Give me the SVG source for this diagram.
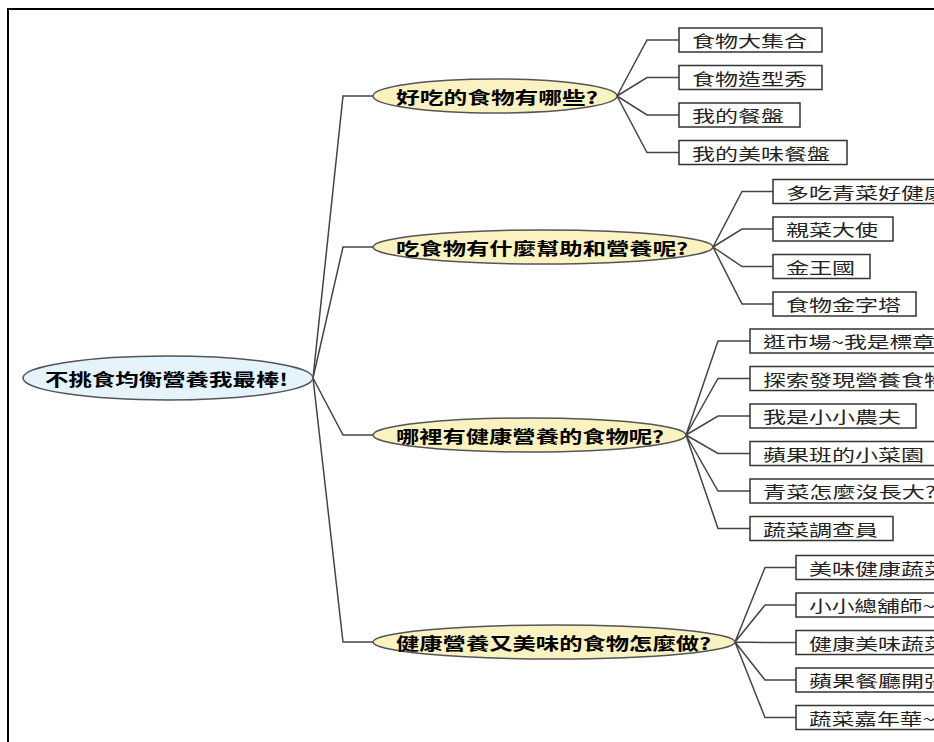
<svg xmlns="http://www.w3.org/2000/svg" width="934" height="742" viewBox="0 0 934 742">
<style>
.bg{fill:#ffffff}
.frame{stroke:#000;stroke-width:2;fill:none}
.root{fill:#e4f3fc;stroke:#555;stroke-width:1.5}
.main{fill:#fbf2c2;stroke:#555;stroke-width:1.5}
.leaf{fill:#fff;stroke:#333;stroke-width:1.5}
.con{fill:none;stroke:#444;stroke-width:1.5}
.tm{font-family:"Noto Sans CJK TC","Noto Sans CJK SC",sans-serif;font-weight:700;font-size:17px;fill:#000;dominant-baseline:central}
.tl{font-family:"Noto Sans CJK TC","Noto Sans CJK SC",sans-serif;font-weight:400;font-size:16px;fill:#222;dominant-baseline:central}
</style>
<rect class="bg" x="0" y="0" width="934" height="742"/>
<path class="frame" d="M8,742 L8,9 L934,9"/>
<g id="connectors">
<path class="con" d="M313,378 L343,96 L373,96"/>
<path class="con" d="M313,378 L343,247 L373,247"/>
<path class="con" d="M313,378 L343,435 L373,435"/>
<path class="con" d="M313,378 L343,642 L373,642"/>
<path class="con" d="M617,96 L647,40 L679,40 M617,96 L647,77.5 L679,77.5 M617,96 L647,115 L679,115 M617,96 L647,152.5 L679,152.5"/>
<path class="con" d="M713,247 L742,191.5 L773,191.5 M713,247 L742,229 L773,229 M713,247 L742,266.5 L773,266.5 M713,247 L742,304 L773,304"/>
<path class="con" d="M686,435 L718,341 L750,341 M686,435 L718,378.5 L750,378.5 M686,435 L718,416 L750,416 M686,435 L718,453.5 L750,453.5 M686,435 L718,491 L750,491 M686,435 L718,528.5 L750,528.5"/>
<path class="con" d="M735,642 L765,567.5 L796,567.5 M735,642 L765,605 L796,605 M735,642 L765,642.5 L796,642.5 M735,642 L765,680 L796,680 M735,642 L765,717.5 L796,717.5"/>
</g>
<g id="root">
<ellipse class="root" cx="168" cy="378" rx="145" ry="22"/>
<text class="tm" x="45" y="378" textLength="243" lengthAdjust="spacingAndGlyphs">不挑食均衡營養我最棒!</text>
</g>
<g id="main1">
<ellipse class="main" cx="495" cy="96" rx="122" ry="17"/>
<text class="tm" x="396" y="96" textLength="202" lengthAdjust="spacingAndGlyphs">好吃的食物有哪些?</text>
</g>
<g id="main2">
<ellipse class="main" cx="543" cy="247" rx="170" ry="17"/>
<text class="tm" x="396" y="247" textLength="292" lengthAdjust="spacingAndGlyphs">吃食物有什麼幫助和營養呢?</text>
</g>
<g id="main3">
<ellipse class="main" cx="529.5" cy="435" rx="156.5" ry="17"/>
<text class="tm" x="396" y="435" textLength="268" lengthAdjust="spacingAndGlyphs">哪裡有健康營養的食物呢?</text>
</g>
<g id="main4">
<ellipse class="main" cx="554" cy="642" rx="181" ry="17"/>
<text class="tm" x="396" y="642" textLength="315" lengthAdjust="spacingAndGlyphs">健康營養又美味的食物怎麼做?</text>
</g>
<g id="leaf1-1"><rect class="leaf" x="679" y="28" width="143" height="24"/><text class="tl" x="692" y="40" textLength="115" lengthAdjust="spacingAndGlyphs">食物大集合</text></g>
<g id="leaf1-2"><rect class="leaf" x="679" y="65.5" width="143" height="24"/><text class="tl" x="692" y="77.5" textLength="115" lengthAdjust="spacingAndGlyphs">食物造型秀</text></g>
<g id="leaf1-3"><rect class="leaf" x="679" y="103" width="121" height="24"/><text class="tl" x="692" y="115" textLength="92" lengthAdjust="spacingAndGlyphs">我的餐盤</text></g>
<g id="leaf1-4"><rect class="leaf" x="679" y="140.5" width="168" height="24"/><text class="tl" x="692" y="152.5" textLength="138" lengthAdjust="spacingAndGlyphs">我的美味餐盤</text></g>
<g id="leaf2-1"><rect class="leaf" x="773" y="179.5" width="200" height="24"/><text class="tl" x="786" y="191.5" textLength="161" lengthAdjust="spacingAndGlyphs">多吃青菜好健康</text></g>
<g id="leaf2-2"><rect class="leaf" x="773" y="217" width="120" height="24"/><text class="tl" x="786" y="229" textLength="92" lengthAdjust="spacingAndGlyphs">親菜大使</text></g>
<g id="leaf2-3"><rect class="leaf" x="773" y="254.5" width="97" height="24"/><text class="tl" x="786" y="266.5" textLength="69" lengthAdjust="spacingAndGlyphs">金王國</text></g>
<g id="leaf2-4"><rect class="leaf" x="773" y="292" width="143" height="24"/><text class="tl" x="786" y="304" textLength="115" lengthAdjust="spacingAndGlyphs">食物金字塔</text></g>
<g id="leaf3-1"><rect class="leaf" x="750" y="329" width="220" height="24"/><text class="tl" x="763" y="341" textLength="172" lengthAdjust="spacingAndGlyphs">逛市場~我是標章</text></g>
<g id="leaf3-2"><rect class="leaf" x="750" y="366.5" width="220" height="24"/><text class="tl" x="763" y="378.5" textLength="184" lengthAdjust="spacingAndGlyphs">探索發現營養食物</text></g>
<g id="leaf3-3"><rect class="leaf" x="750" y="404" width="166" height="24"/><text class="tl" x="763" y="416" textLength="138" lengthAdjust="spacingAndGlyphs">我是小小農夫</text></g>
<g id="leaf3-4"><rect class="leaf" x="750" y="441.5" width="190" height="24"/><text class="tl" x="763" y="453.5" textLength="161" lengthAdjust="spacingAndGlyphs">蘋果班的小菜園</text></g>
<g id="leaf3-5"><rect class="leaf" x="750" y="479" width="200" height="24"/><text class="tl" x="763" y="491" textLength="173" lengthAdjust="spacingAndGlyphs">青菜怎麼沒長大?</text></g>
<g id="leaf3-6"><rect class="leaf" x="750" y="516.5" width="143" height="24"/><text class="tl" x="763" y="528.5" textLength="115" lengthAdjust="spacingAndGlyphs">蔬菜調查員</text></g>
<g id="leaf4-1"><rect class="leaf" x="796" y="555.5" width="180" height="24"/><text class="tl" x="809" y="567.5" textLength="138" lengthAdjust="spacingAndGlyphs">美味健康蔬菜</text></g>
<g id="leaf4-2"><rect class="leaf" x="796" y="593" width="180" height="24"/><text class="tl" x="809" y="605" textLength="126" lengthAdjust="spacingAndGlyphs">小小總舖師~</text></g>
<g id="leaf4-3"><rect class="leaf" x="796" y="630.5" width="180" height="24"/><text class="tl" x="809" y="642.5" textLength="138" lengthAdjust="spacingAndGlyphs">健康美味蔬菜</text></g>
<g id="leaf4-4"><rect class="leaf" x="796" y="668" width="180" height="24"/><text class="tl" x="809" y="680" textLength="138" lengthAdjust="spacingAndGlyphs">蘋果餐廳開張</text></g>
<g id="leaf4-5"><rect class="leaf" x="796" y="705.5" width="180" height="24"/><text class="tl" x="809" y="717.5" textLength="126" lengthAdjust="spacingAndGlyphs">蔬菜嘉年華~</text></g>
</svg>
